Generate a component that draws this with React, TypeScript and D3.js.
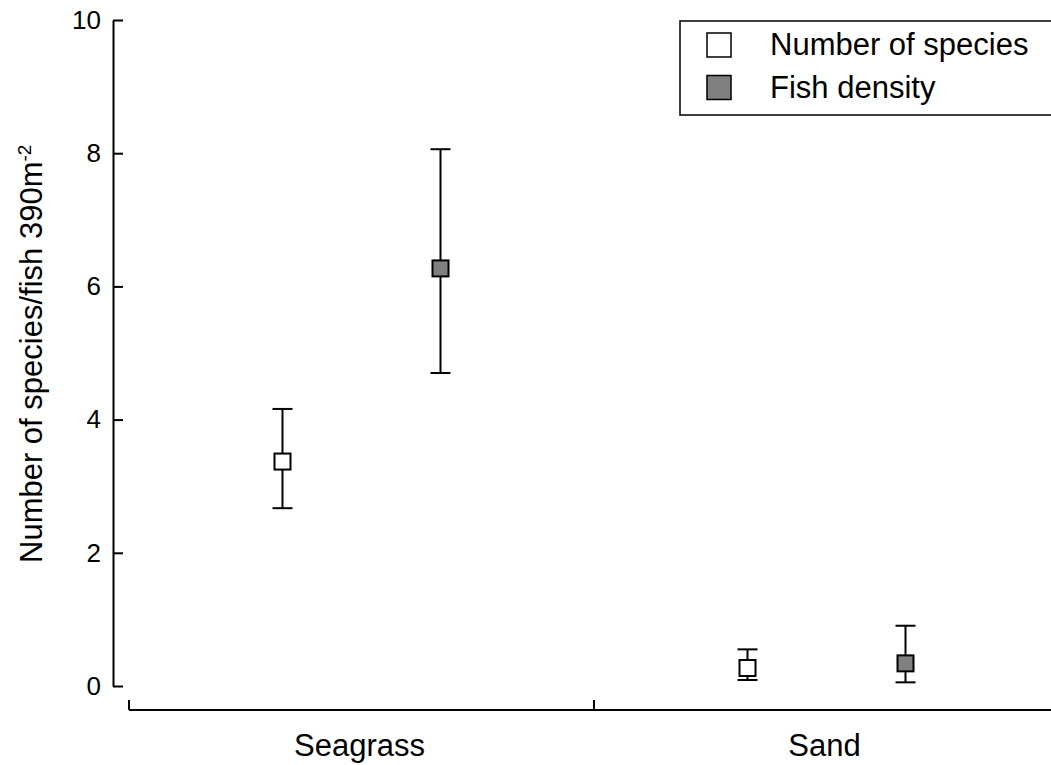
import React, { useEffect, useRef } from 'react';
import * as d3 from 'd3';

// habitat categories and the two measured series
const categories = ['Seagrass', 'Sand'];
const seriesNames = ['Number of species', 'Fish density'];
const seriesFill = ['#ffffff', '#808080'];

const speciesMean = [3.37, 0.27];
const speciesLow = [2.67, 0.09];
const speciesHigh = [4.16, 0.55];

const densityMean = [6.27, 0.34];
const densityLow = [4.7, 0.055];
const densityHigh = [8.06, 0.905];

const yTicks = [0, 2, 4, 6, 8, 10];

const FONT = 'Liberation Sans, Arial, Helvetica, sans-serif';

function PointChart({ width, height }) {
    const svgRef = useRef();

    useEffect(() => {
        const svg = d3.select(svgRef.current);
        svg.selectAll('*').remove();

        const xAxisY = 710;
        const yAxisX = 113;

        const yScale = d3.scaleLinear()
            .domain([0, 10])
            .range([686, 20]);

        const xScale = d3.scaleBand()
            .domain(categories)
            .range([129, 1059])
            .padding(0);

        const offset = d3.scalePoint()
            .domain(seriesNames)
            .range([-79, 79]);

        // y axis, ticks pointing inward
        const yAxis = d3.axisLeft(yScale)
            .tickValues(yTicks)
            .tickSize(-10)
            .tickSizeOuter(0)
            .tickPadding(12)
            .tickFormat(d3.format('d'));

        const gy = svg.append('g')
            .attr('transform', `translate(${yAxisX},0)`)
            .call(yAxis);
        gy.selectAll('path, line').attr('stroke', '#000').attr('stroke-width', 2);
        gy.selectAll('text')
            .attr('font-family', FONT)
            .attr('font-size', 26)
            .attr('fill', '#000');

        // x axis: line plus ticks at the category edges
        svg.append('line')
            .attr('x1', xScale.range()[0])
            .attr('x2', xScale.range()[1])
            .attr('y1', xAxisY)
            .attr('y2', xAxisY)
            .attr('stroke', '#000')
            .attr('stroke-width', 2);

        const edges = categories.map(c => xScale(c)).concat([xScale.range()[1]]);
        svg.selectAll('.xtick')
            .data(edges)
            .join('line')
            .attr('x1', d => d)
            .attr('x2', d => d)
            .attr('y1', xAxisY)
            .attr('y2', xAxisY - 10)
            .attr('stroke', '#000')
            .attr('stroke-width', 2);

        svg.selectAll('.xlabel')
            .data(categories)
            .join('text')
            .attr('x', d => xScale(d) + xScale.bandwidth() / 2 - 2)
            .attr('y', xAxisY + 46)
            .attr('text-anchor', 'middle')
            .attr('font-family', FONT)
            .attr('font-size', 31)
            .text(d => d);

        // y title
        const title = svg.append('text')
            .attr('transform', 'translate(42,563) rotate(-90)')
            .attr('font-family', FONT)
            .attr('font-size', 31)
            .attr('text-anchor', 'start');
        title.append('tspan').text('Number of species/fish 390m');
        title.append('tspan')
            .attr('dy', -11)
            .attr('font-size', 19)
            .text('-2');

        // points with error bars
        const rows = [];
        categories.forEach((c, i) => {
            rows.push({ cat: c, s: 0, mean: speciesMean[i], lo: speciesLow[i], hi: speciesHigh[i] });
            rows.push({ cat: c, s: 1, mean: densityMean[i], lo: densityLow[i], hi: densityHigh[i] });
        });
        const cx = d => xScale(d.cat) + xScale.bandwidth() / 2 + offset(seriesNames[d.s]);

        const g = svg.append('g');
        g.selectAll('.err')
            .data(rows)
            .join('line')
            .attr('x1', cx)
            .attr('x2', cx)
            .attr('y1', d => yScale(d.lo))
            .attr('y2', d => yScale(d.hi))
            .attr('stroke', '#000')
            .attr('stroke-width', 2);

        ['lo', 'hi'].forEach(k => {
            g.selectAll('.cap-' + k)
                .data(rows)
                .join('line')
                .attr('x1', d => cx(d) - 10)
                .attr('x2', d => cx(d) + 10)
                .attr('y1', d => yScale(d[k]))
                .attr('y2', d => yScale(d[k]))
                .attr('stroke', '#000')
                .attr('stroke-width', 2);
        });

        g.selectAll('.pt')
            .data(rows)
            .join('rect')
            .attr('x', d => cx(d) - 8)
            .attr('y', d => yScale(d.mean) - 8)
            .attr('width', 16)
            .attr('height', 16)
            .attr('fill', d => seriesFill[d.s])
            .attr('stroke', '#000')
            .attr('stroke-width', 2);

        // legend
        const lg = svg.append('g');
        lg.append('rect')
            .attr('x', 680)
            .attr('y', 21)
            .attr('width', 400)
            .attr('height', 94)
            .attr('fill', '#fff')
            .attr('stroke', '#000')
            .attr('stroke-width', 1.5);

        const item = lg.selectAll('.item')
            .data(seriesNames)
            .join('g')
            .attr('transform', (d, i) => `translate(0,${i * 42.5})`);
        item.append('rect')
            .attr('x', 707)
            .attr('y', 33)
            .attr('width', 24)
            .attr('height', 24)
            .attr('fill', (d, i) => seriesFill[i])
            .attr('stroke', '#000')
            .attr('stroke-width', 1.5);
        item.append('text')
            .attr('x', 770)
            .attr('y', 55)
            .attr('font-family', FONT)
            .attr('font-size', 31)
            .text(d => d);
    }, [width, height]);

    return (
        <svg
            ref={svgRef}
            width={width}
            height={height}
            style={{ position: 'absolute', left: 0, top: 0, background: '#fff' }}
        />
    );
}

export default function App() {
    return <PointChart width={1051} height={765} />;
}
